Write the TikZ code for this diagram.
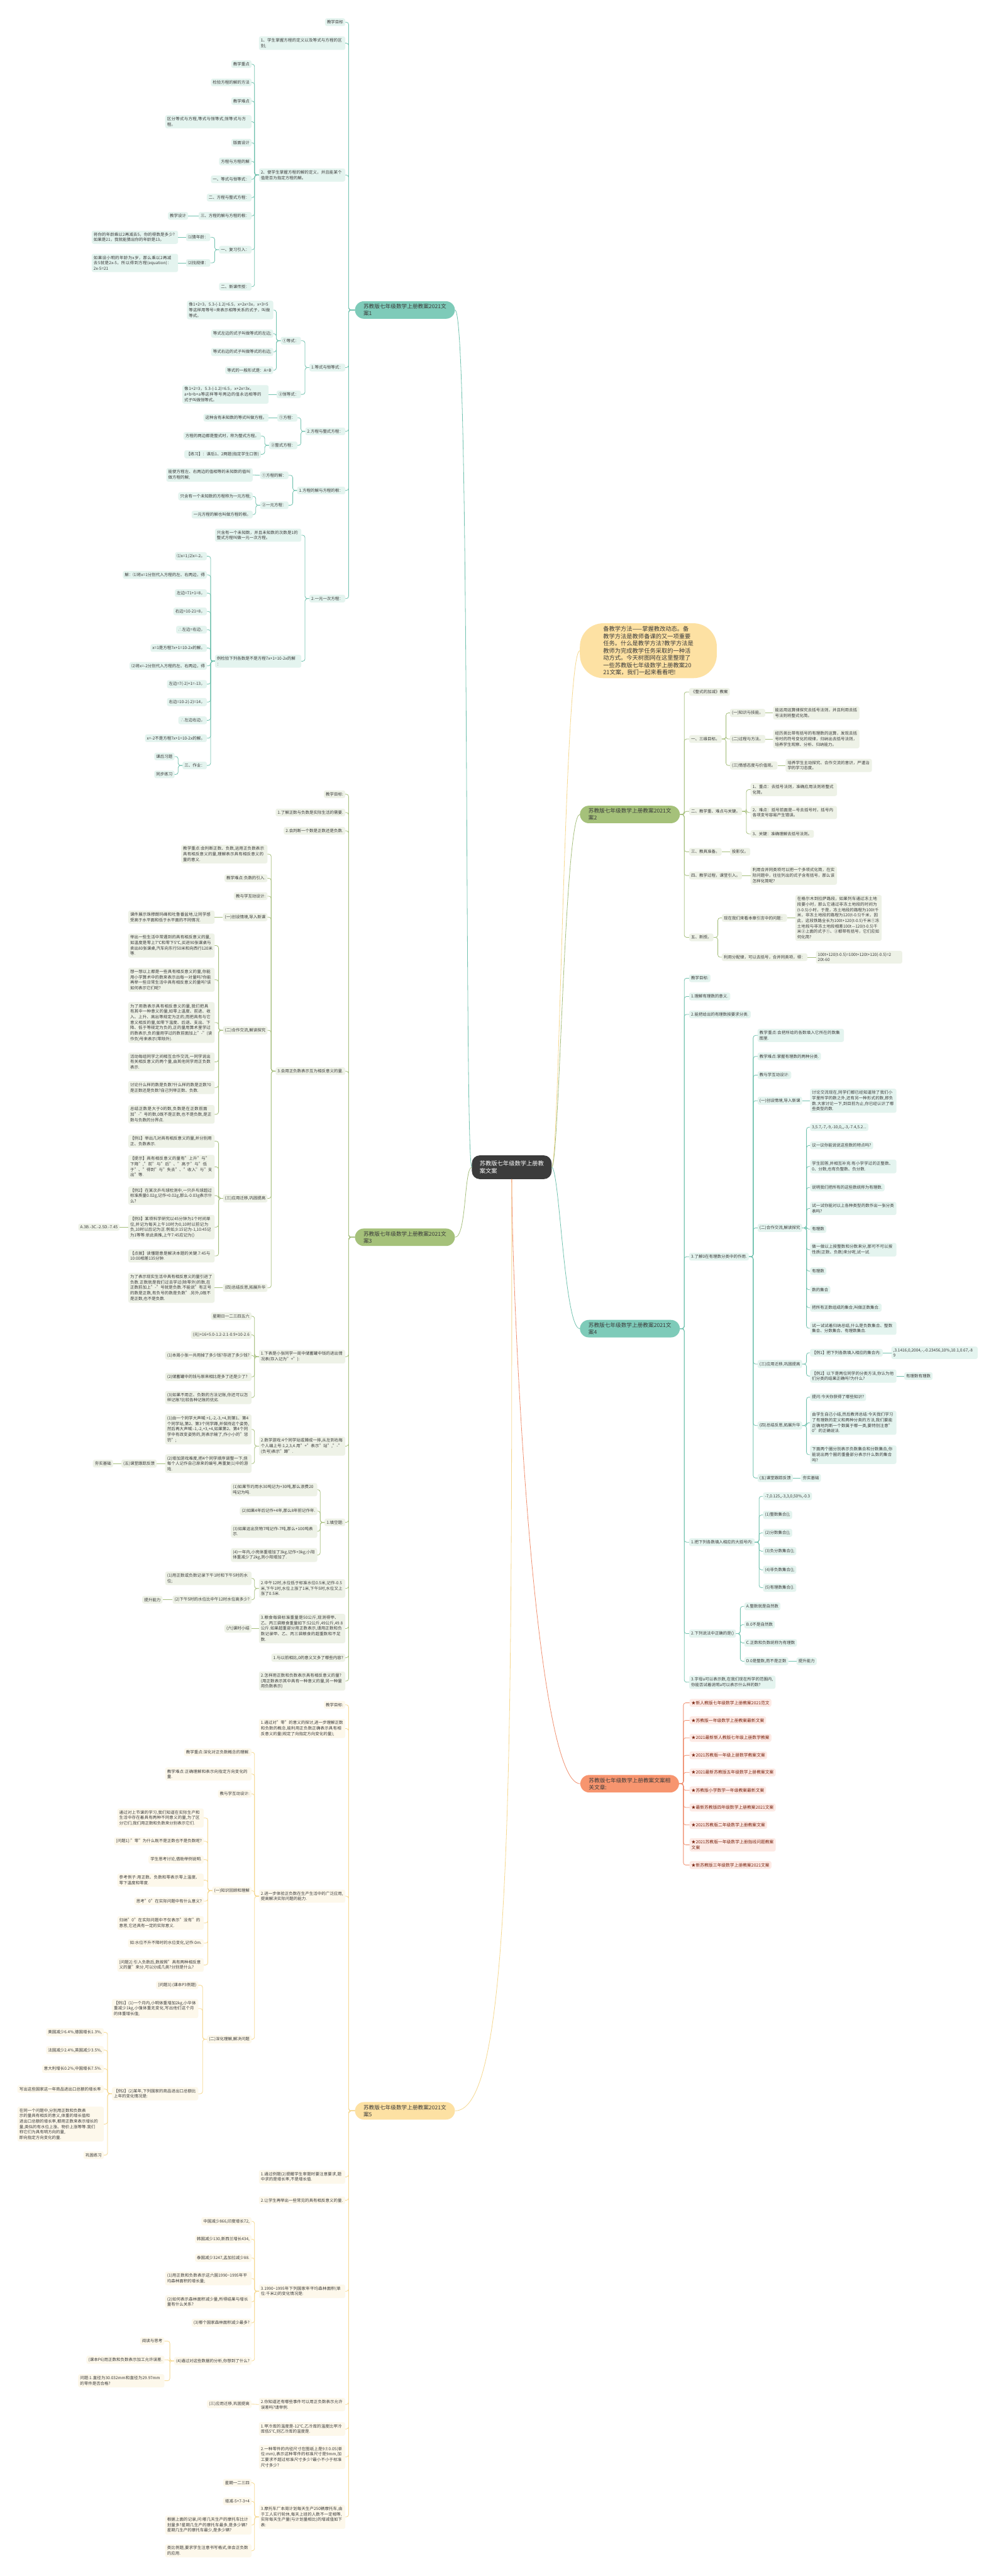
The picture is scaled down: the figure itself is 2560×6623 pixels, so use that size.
\documentclass[tikz,border=0pt]{standalone}
\usepackage{fontspec}
\setmainfont{Noto Sans CJK SC}
\XeTeXlinebreaklocale "zh"
\XeTeXlinebreakskip=0pt plus 1pt
\usetikzlibrary{positioning}

\definecolor{inkc}{HTML}{3A3A3A}
\definecolor{ctrfill}{HTML}{3B3B3B}
\definecolor{tealroot}{HTML}{7ECBB9}
\definecolor{tealline}{HTML}{71C2AF}
\definecolor{tealleaf}{HTML}{E4F4EF}
\definecolor{oliveroot}{HTML}{A5C17A}
\definecolor{oliveline}{HTML}{A6BF7D}
\definecolor{oliveleaf}{HTML}{EEF2E7}
\definecolor{sandroot}{HTML}{FDE1A3}
\definecolor{sandline}{HTML}{F6D88F}
\definecolor{sandleaf}{HTML}{FDF8EB}
\definecolor{roseroot}{HTML}{F7956F}
\definecolor{roseline}{HTML}{F08F6F}
\definecolor{roseleaf}{HTML}{FDEAE5}
\definecolor{rosetext}{HTML}{7A2410}

\tikzset{
  leaf/.style={rounded corners=5pt, inner xsep=5pt, inner ysep=5pt, text=inkc, align=left,
    font=\fontsize{10.5pt}{14pt}\selectfont},
  wide/.style={text width=212pt},
  tealL/.style={leaf, fill=tealleaf, anchor=east},
  tealR/.style={leaf, fill=tealleaf, anchor=west},
  oliveL/.style={leaf, fill=oliveleaf, anchor=east},
  oliveR/.style={leaf, fill=oliveleaf, anchor=west},
  sandL/.style={leaf, fill=sandleaf, anchor=east},
  roseR/.style={leaf, fill=roseleaf, anchor=west, text=rosetext, font=\fontsize{11pt}{14pt}\selectfont},
  root/.style={rounded corners=23pt, inner xsep=22pt, inner ysep=7pt, text=inkc, align=left,
    font=\fontsize{14pt}{18pt}\selectfont},
  tline/.style={draw=tealline, line width=1.3pt, rounded corners=6pt},
  oline/.style={draw=oliveline, line width=1.3pt, rounded corners=6pt},
  sline/.style={draw=sandline, line width=1.3pt, rounded corners=6pt},
  rline/.style={draw=roseline, line width=1.3pt, rounded corners=6pt}
}

\begin{document}
\begin{tikzpicture}[x=1pt, y=-1pt]
\useasboundingbox (0,0) rectangle (2560,6623);
\fill[white] (0,0) rectangle (2560,6623);

% centre
\node[fill=ctrfill, text=white, rounded corners=20pt, inner xsep=20pt, inner ysep=14pt, align=left,
  font=\fontsize{15pt}{19pt}\selectfont] (ctr) at (1316,3001) {苏教版七年级数学上册教\\案文案};

% ---- 文案1 (left, teal)
\node[root, fill=tealroot, anchor=east] (r1) at (1170,797) {苏教版七年级数学上册教案2021文\\案1};
\node[tealL] (a1) at (888,57) {教学目标};
\node[tealL, wide] (a2) at (888,111) {1、学生掌握方程的定义以及等式与方程的区别;};
\node[tealL, wide] (a3) at (888,450) {2、使学生掌握方程的解的定义，并且能某个值是否为指定方程的解。};
\node[tealL] (a4) at (888,945) {1.等式与恒等式：};
\node[tealL] (a5) at (888,1109) {2.方程与整式方程：};
\node[tealL] (a6) at (888,1261) {1.方程的解与方程的根：};
\node[tealL] (a7) at (888,1539) {2.一元一次方程：};

\node[tealL] (a3a) at (647,165) {教学重点};
\node[tealL] (a3b) at (647,212) {检验方程的解的方法};
\node[tealL] (a3c) at (647,260) {教学难点};
\node[tealL, wide] (a3d) at (647,313) {区分等式与方程,等式与恒等式,恒等式与方程。};
\node[tealL] (a3e) at (647,367) {版面设计};
\node[tealL] (a3f) at (647,415) {方程与方程的解};
\node[tealL] (a3g) at (647,461) {一、等式与恒等式：};
\node[tealL] (a3h) at (647,508) {二、方程与整式方程：};
\node[tealL] (a3i) at (647,555) {三、方程的解与方程的根：};
\node[tealL] (a3i1) at (484,555) {教学设计};
\node[tealL] (a3j) at (647,642) {一、复习引入：};
\node[tealL] (cnl) at (541,610) {⑴猜年龄：};
\node[tealL, wide] (cnl1) at (458,610) {将你的年龄乘以2再减去5，你的得数是多少?如果是21，我就能猜出你的年龄是13。};
\node[tealL] (zgl) at (541,676) {⑵找规律：};
\node[tealL, wide] (zgl1) at (458,676) {如果设小明的年龄为x岁，那么乘以2再减去5就是2x-5，所以得到方程(equation)：2x-5=21};
\node[tealL] (a3k) at (647,737) {二、新课传授：};

\node[tealL] (eqa) at (774,876) {①等式：};
\node[tealL, wide] (eq1) at (703,797) {像1+2=3，5.3-(-1.2)=6.5，x+2x=3x，x+3=5等这样用等号=来表示相等关系的式子，叫做等式。};
\node[tealL] (eq2) at (703,858) {等式左边的式子叫做等式的左边;};
\node[tealL] (eq3) at (703,905) {等式右边的式子叫做等式的右边;};
\node[tealL] (eq4) at (703,952) {等式的一般形式是：A=B};
\node[tealL] (hda) at (774,1014) {②恒等式：};
\node[tealL, wide] (hd1) at (691,1014) {像1+2=3，5.3-(-1.2)=6.5，x+2x=3x，a+b=b+a等这样等号两边的值永远相等的式子叫做恒等式。};

\node[tealL] (fc) at (765,1074) {①方程：};
\node[tealL] (fc1) at (691,1074) {这种含有未知数的等式叫做方程。};
\node[tealL] (zsfc) at (765,1145) {②整式方程：};
\node[tealL] (zs1) at (671,1121) {方程的两边都是整式时，称为整式方程。};
\node[tealL] (zs2) at (671,1168) {【练习】：课后1、2两题(指定学生口答)};

\node[tealL] (fcj) at (742,1222) {①方程的解：};
\node[tealL, wide] (fcj1) at (650,1221) {能使方程左、右两边的值相等的未知数的值叫做方程的解;};
\node[tealL] (yyfc) at (742,1299) {②一元方程：};
\node[tealL] (yy1) at (650,1276) {只含有一个未知数的方程称为一元方程;};
\node[tealL] (yy2) at (650,1323) {一元方程的解也叫做方程的根。};

\node[tealL, wide] (yc1) at (775,1376) {只含有一个未知数，并且未知数的次数是1的整式方程叫做一元一次方程。};
\node[tealL, wide] (yc2) at (775,1700) {例检验下列各数是不是方程7x+1=10-2x的解\\：};
\node[tealL] (jy1) at (532,1430) {⑴x=1;⑵x=-2。};
\node[tealL] (jy2) at (532,1478) {解：⑴将x=1分别代入方程的左、右两边，得};
\node[tealL] (jy3) at (532,1525) {左边=71+1=8，};
\node[tealL] (jy4) at (532,1572) {右边=10-21=8，};
\node[tealL] (jy5) at (532,1619) {∴左边=右边，};
\node[tealL] (jy6) at (532,1666) {x=1是方程7x+1=10-2x的解。};
\node[tealL] (jy7) at (532,1712) {⑵将x=-2分别代入方程的左、右两边，得};
\node[tealL] (jy8) at (532,1759) {左边=7(-2)+1=-13，};
\node[tealL] (jy9) at (532,1805) {右边=10-2(-2)=14，};
\node[tealL] (jy10) at (532,1852) {∴左边右边，};
\node[tealL] (jy11) at (532,1898) {x=-2不是方程7x+1=10-2x的解。};
\node[tealL] (zy) at (532,1968) {三、作业：};
\node[tealL] (zy1) at (449,1945) {课后习题};
\node[tealL] (zy2) at (449,1991) {同步练习};

\foreach \c in {a1,a2,a3,a4,a5,a6,a7} \draw[tline] (r1.west) -- ++(-16,0) |- (\c.east);
\foreach \c in {a3a,a3b,a3c,a3d,a3e,a3f,a3g,a3h,a3i,a3j,a3k} \draw[tline] (a3.west) -- ++(-11,0) |- (\c.east);
\draw[tline] (a3i.west) -- (a3i1.east);
\foreach \c in {cnl,zgl} \draw[tline] (a3j.west) -- ++(-11,0) |- (\c.east);
\draw[tline] (cnl.west) -- (cnl1.east);
\draw[tline] (zgl.west) -- (zgl1.east);
\foreach \c in {eqa,hda} \draw[tline] (a4.west) -- ++(-11,0) |- (\c.east);
\foreach \c in {eq1,eq2,eq3,eq4} \draw[tline] (eqa.west) -- ++(-11,0) |- (\c.east);
\draw[tline] (hda.west) -- (hd1.east);
\foreach \c in {fc,zsfc} \draw[tline] (a5.west) -- ++(-11,0) |- (\c.east);
\draw[tline] (fc.west) -- (fc1.east);
\foreach \c in {zs1,zs2} \draw[tline] (zsfc.west) -- ++(-11,0) |- (\c.east);
\foreach \c in {fcj,yyfc} \draw[tline] (a6.west) -- ++(-11,0) |- (\c.east);
\draw[tline] (fcj.west) -- (fcj1.east);
\foreach \c in {yy1,yy2} \draw[tline] (yyfc.west) -- ++(-11,0) |- (\c.east);
\foreach \c in {yc1,yc2} \draw[tline] (a7.west) -- ++(-11,0) |- (\c.east);
\foreach \c in {jy1,jy2,jy3,jy4,jy5,jy6,jy7,jy8,jy9,jy10,jy11,zy} \draw[tline] (yc2.west) -- ++(-11,0) |- (\c.east);
\foreach \c in {zy1,zy2} \draw[tline] (zy.west) -- ++(-11,0) |- (\c.east);

% ---- note
\node[fill=sandroot, rounded corners=60pt, anchor=west, minimum width=352pt, minimum height=141pt,
  inner xsep=20pt, align=left, text=inkc, font=\fontsize{15pt}{18.5pt}\selectfont] (note) at (1491,1673)
  {备教学方法——掌握教改动态。备\\教学方法是教师备课的又一项重要\\任务。什么是教学方法?教学方法是\\教师为完成教学任务采取的一种活\\动方式。今天树图网在这里整理了\\一些苏教版七年级数学上册教案20\\21文案，我们一起来看看吧!};

% ---- 文案2 (right, olive)
\node[root, fill=oliveroot, anchor=west] (r2) at (1491,2094) {苏教版七年级数学上册教案2021文\\案2};
\node[oliveR] (b1) at (1772,1779) {《整式的加减》教案};
\node[oliveR] (b2) at (1772,1900) {一、三维目标。};
\node[oliveR] (b3) at (1772,2086) {二、教学重、难点与关键。};
\node[oliveR] (b4) at (1772,2190) {三、教具准备。};
\node[oliveR] (b5) at (1772,2251) {四、教学过程，课堂引入。};
\node[oliveR] (b6) at (1772,2410) {五、新授。};
\node[oliveR] (b2a) at (1877,1833) {(一)知识与技能。};
\node[oliveR, wide] (b2a1) at (1988,1833) {能运用运算律探究去括号法则，并且利用去括号法则将整式化简。};
\node[oliveR] (b2b) at (1877,1900) {(二)过程与方法。};
\node[oliveR, wide] (b2b1) at (1988,1900) {经历类比带有括号的有理数的运算，发现去括号时的符号变化的规律，归纳出去括号法则，培养学生观察、分析、归纳能力。};
\node[oliveR] (b2c) at (1877,1968) {(三)情感态度与价值观。};
\node[oliveR, wide] (b2c1) at (2020,1968) {培养学生主动探究、合作交流的意识，严谨治学的学习态度。};
\node[oliveR, wide] (b3a) at (1930,2030) {1、重点：去括号法则，准确应用法则将整式化简。};
\node[oliveR, wide] (b3b) at (1930,2089) {2、难点：括号前面是—号去括号时，括号内各项变号容易产生错误。};
\node[oliveR] (b3c) at (1930,2144) {3、关键：准确理解去括号法则。};
\node[oliveR] (b4a) at (1877,2190) {投影仪。};
\node[oliveR, wide] (b5a) at (1930,2251) {利用合并同类项可以把一个多项式化简，在实际问题中，往往列出的式子含有括号，那么该怎样化简呢?};
\node[oliveR] (b6a) at (1856,2360) {现在我们来看本章引言中的问题：};
\node[oliveR, wide] (b6a1) at (2045,2360) {在格尔木到拉萨路段，如果列车通过冻土地段要小时，那么它通过非冻土地段的时间为(t-0.5)小时，于是，冻土地段的路程为100t千米，非冻土地段的路程为120(t-0.5)千米，因此，这段铁路全长为100t+120(t-0.5)千米①冻土地段与非冻土地段相差100t—120(t-0.5)千米②上面的式子①、②都带有括号，它们应如何化简?};
\node[oliveR] (b6b) at (1856,2461) {利用分配律，可以去括号，合并同类项，得：};
\node[oliveR, wide] (b6b1) at (2098,2461) {100t+120(t-0.5)=100t+120t+120(-0.5)=2\\20t-60};

\foreach \c in {b1,b2,b3,b4,b5,b6} \draw[oline] (r2.east) -- ++(11,0) |- (\c.west);
\foreach \c in {b2a,b2b,b2c} \draw[oline] (b2.east) -- ++(11,0) |- (\c.west);
\draw[oline] (b2a.east) -- (b2a1.west);
\draw[oline] (b2b.east) -- (b2b1.west);
\draw[oline] (b2c.east) -- (b2c1.west);
\foreach \c in {b3a,b3b,b3c} \draw[oline] (b3.east) -- ++(11,0) |- (\c.west);
\draw[oline] (b4.east) -- (b4a.west);
\draw[oline] (b5.east) -- (b5a.west);
\foreach \c in {b6a,b6b} \draw[oline] (b6.east) -- ++(11,0) |- (\c.west);
\draw[oline] (b6a.east) -- (b6a1.west);
\draw[oline] (b6b.east) -- (b6b1.west);

% ---- 文案3 (left, olive)
\node[root, fill=oliveroot, anchor=east] (r3) at (1170,3181) {苏教版七年级数学上册教案2021文\\案3};
\node[oliveL] (c1) at (888,2042) {教学目标:};
\node[oliveL] (c2) at (888,2089) {1.了解正数与负数是实际生活的需要.};
\node[oliveL] (c3) at (888,2136) {2.会判断一个数是正数还是负数.};
\node[oliveL] (c4) at (888,2754) {3.会用正负数表示互为相反意义的量.};
\node[oliveL, wide] (c5) at (888,3488) {1.下表是小张同学一周中储蓄罐中钱的进出情况表(存入记为"+"):};
\node[oliveL, wide] (c6) at (888,3718) {2.数学游戏:4个同学站或蹲成一排,从左到右每个人编上号:1,2,3,4.用"+"表示"站","-"(负号)表示"蹲".};
\node[oliveL] (c7) at (888,3914) {1.填空题:};
\node[oliveL, wide] (c8) at (888,4084) {2.中午12时,水位低于标准水位0.5米,记作-0.5米,下午1时,水位上涨了1米,下午5时,水位又上涨了0.5米.};
\node[oliveL, wide] (c9) at (888,4187) {3.粮食每袋标准重量是50公斤,现测得甲、乙、丙三袋粮食重量如下:52公斤,49公斤,49.8公斤.如果超重部分用正数表示,请用正数和负数记录甲、乙、丙三袋粮食的超重数和不足数.};
\node[oliveL] (c10) at (888,4262) {1.与以前相比,0的意义又多了哪些内容?};
\node[oliveL, wide] (c11) at (888,4322) {2.怎样用正数和负数表示具有相反意义的量?(用正数表示其中具有一种意义的量,另一种量用负数表示)};

\node[oliveL, wide] (c4a) at (688,2196) {教学重点:会判断正数、负数,运用正负数表示具有相反意义的量,理解表示具有相反意义的量的意义.};
\node[oliveL] (c4b) at (688,2258) {教学难点:负数的引入.};
\node[oliveL] (c4c) at (688,2304) {教与学互动设计:};
\node[oliveL] (c4d) at (688,2358) {(一)创设情境,导入新课};
\node[oliveL, wide] (c4d1) at (552,2358) {课件展示珠穆朗玛峰和吐鲁番盆地,让同学感受高于水平面和低于水平面的不同情况.};
\node[oliveL] (c4e) at (688,2649) {(二)合作交流,解读探究};
\node[oliveL, wide] (c4e1) at (552,2431) {举出一些生活中常遇到的具有相反意义的量,如温度是零上7℃和零下5℃,买进90张课桌与卖出80张课桌,汽车向东行50米和向西行120米等.};
\node[oliveL, wide] (c4e2) at (552,2519) {想一想以上都是一些具有相反意义的量,你能用小学算术中的数来表示出每一对量吗?你能再举一些日常生活中具有相反意义的量吗?该如何表示它们呢?};
\node[oliveL, wide] (c4e3) at (552,2629) {为了用数表示具有相反意义的量,我们把具有其中一种意义的量,如零上温度、前进、收入、上升、高出等规定为正的,而把具有与它意义相反的量,如零下温度、后退、支出、下降、低于等规定为负的,正的量用算术里学过的数表示,负的量用学过的数前面加上"-"(读作负)号来表示(零除外).};
\node[oliveL, wide] (c4e4) at (552,2730) {活动每组同学之间相互合作交流,一同学说出有关相反意义的两个量,由其他同学用正负数表示.};
\node[oliveL, wide] (c4e5) at (552,2796) {讨论什么样的数是负数?什么样的数是正数?0是正数还是负数?自己列举正数、负数.};
\node[oliveL, wide] (c4e6) at (552,2865) {总结正数是大于0的数,负数是在正数前面加"-"号的数,0既不是正数,也不是负数,是正数与负数的分界点.};
\node[oliveL] (c4f) at (688,3081) {(三)应用迁移,巩固提高};
\node[oliveL, wide] (c4f1) at (552,2934) {【例1】举出几对具有相反意义的量,并分别用正、负数表示.};
\node[oliveL, wide] (c4f2) at (552,3000) {【提示】具有相反意义的量有"上升"与"下降","前"与"后"、"高于"与"低于"、"得到"与"失去"、"收入"与"支出"等.};
\node[oliveL, wide] (c4f3) at (552,3074) {【例2】在某次乒乓球检测中,一只乒乓球超过标准质量0.02g,记作+0.02g,那么-0.03g表示什么?};
\node[oliveL, wide] (c4f4) at (552,3155) {【例3】某项科学研究以45分钟为1个时间单位,并记为每天上午10时为0,10时以前记为负,10时以后记为正.例如,9:15记为-1,10:45记为1等等.依此类推,上午7:45应记为()};
\node[oliveL] (c4f4a) at (308,3155) {A.3B.-3C.-2.5D.-7.45};
\node[oliveL, wide] (c4f5) at (552,3229) {【点拨】读懂题意是解决本题的关键.7:45与10:00相差135分钟.};
\node[oliveL] (c4g) at (688,3311) {(四)总结反思,拓展升华};
\node[oliveL, wide] (c4g1) at (552,3311) {为了表示现实生活中具有相反意义的量引进了负数.正数就是我们过去学过(除零外)的数,在正数前加上"-"号就是负数.不能说"有正号的数是正数,有负号的数是负数".另外,0既不是正数,也不是负数.};

\node[oliveL] (c5a) at (647,3384) {星期日一二三四五六};
\node[oliveL] (c5b) at (647,3432) {(元)+16+5.0-1.2-2.1-0.9+10-2.6};
\node[oliveL, wide] (c5c) at (647,3485) {(1)本周小张一共用掉了多少钱?存进了多少钱?};
\node[oliveL, wide] (c5d) at (647,3540) {(2)储蓄罐中的钱与原来相比是多了还是少了?};
\node[oliveL, wide] (c5e) at (647,3593) {(3)如果不用正、负数的方法记账,你还可以怎样记账?比较各种记账的优劣.};
\node[oliveL, wide] (c6a) at (647,3675) {(1)由一个同学大声喊:+1,-2,-3,+4,则第1、第4个同学站,第2、第3个同学蹲,并保持这个姿势,然后再大声喊:-1,-2,+3,+4,如果第2、第4个同学中有改变姿势的,则表示输了,作小小的"惩罚";};
\node[oliveL, wide] (c6b) at (647,3763) {(2)增加游戏难度,把4个同学顺序调整一下,但每个人记作自己原来的编号,再重复(1)中的游戏.};
\node[oliveL] (c6b1) at (403,3763) {(五)课堂跟踪反馈};
\node[oliveL] (c6b2) at (291,3763) {夯实基础};
\node[oliveL, wide] (c7a) at (816,3830) {(1)如果节约用水30吨记为+30吨,那么浪费20吨记为吨.};
\node[oliveL] (c7b) at (816,3885) {(2)如果4年后记作+4年,那么8年前记作年.};
\node[oliveL, wide] (c7c) at (816,3937) {(3)如果运出货物7吨记作-7吨,那么+100吨表示.};
\node[oliveL, wide] (c7d) at (816,3998) {(4)一年内,小亮体重增加了3kg,记作+3kg;小阳体重减少了2kg,则小阳增加了.};
\node[oliveL, wide] (c8a) at (647,4058) {(1)用正数或负数记录下午1时和下午5时的水位;};
\node[oliveL] (c8b) at (647,4113) {(2)下午5时的水位比中午12时水位高多少?};
\node[oliveL] (c8b1) at (418,4113) {提升能力};
\node[oliveL] (c9a) at (647,4187) {(六)课时小结};

\foreach \c in {c1,c2,c3,c4,c5,c6,c7,c8,c9,c10,c11} \draw[oline] (r3.west) -- ++(-16,0) |- (\c.east);
\foreach \c in {c4a,c4b,c4c,c4d,c4e,c4f,c4g} \draw[oline] (c4.west) -- ++(-11,0) |- (\c.east);
\draw[oline] (c4d.west) -- (c4d1.east);
\foreach \c in {c4e1,c4e2,c4e3,c4e4,c4e5,c4e6} \draw[oline] (c4e.west) -- ++(-11,0) |- (\c.east);
\foreach \c in {c4f1,c4f2,c4f3,c4f4,c4f5} \draw[oline] (c4f.west) -- ++(-11,0) |- (\c.east);
\draw[oline] (c4f4.west) -- (c4f4a.east);
\draw[oline] (c4g.west) -- (c4g1.east);
\foreach \c in {c5a,c5b,c5c,c5d,c5e} \draw[oline] (c5.west) -- ++(-11,0) |- (\c.east);
\foreach \c in {c6a,c6b} \draw[oline] (c6.west) -- ++(-11,0) |- (\c.east);
\draw[oline] (c6b.west) -- (c6b1.east);
\draw[oline] (c6b1.west) -- (c6b2.east);
\foreach \c in {c7a,c7b,c7c,c7d} \draw[oline] (c7.west) -- ++(-11,0) |- (\c.east);
\foreach \c in {c8a,c8b} \draw[oline] (c8.west) -- ++(-11,0) |- (\c.east);
\draw[oline] (c8b.west) -- (c8b1.east);
\draw[oline] (c9.west) -- (c9a.east);

% ---- 文案4 (right, teal)
\node[root, fill=tealroot, anchor=west] (r4) at (1491,3416) {苏教版七年级数学上册教案2021文\\案4};
\node[tealR] (d1) at (1772,2515) {教学目标:};
\node[tealR] (d2) at (1772,2562) {1.理解有理数的意义.};
\node[tealR] (d3) at (1772,2608) {2.能把给出的有理数按要求分类.};
\node[tealR] (d4) at (1772,3231) {3.了解0在有理数分类中的作用.};
\node[tealR] (d5) at (1772,3965) {1.把下列各数填入相应的大括号内:};
\node[tealR] (d6) at (1772,4200) {2.下列说法中正确的是()};
\node[tealR, wide] (d7) at (1772,4325) {3.字母a可以表示数,在我们现在所学的范围内,你能否试着说明a可以表示什么样的数?};

\node[tealR, wide] (d4a) at (1948,2662) {教学重点:会把所给的各数填入它所在的数集图里.};
\node[tealR] (d4b) at (1948,2716) {教学难点:掌握有理数的两种分类.};
\node[tealR] (d4c) at (1948,2764) {教与学互动设计:};
\node[tealR] (d4d) at (1948,2830) {(一)创设情境,导入新课};
\node[tealR, wide] (d4d1) at (2083,2830) {讨论交流现在,同学们都已经知道除了我们小学里所学的数之外,还有另一种形式的数,即负数.大家讨论一下,到目前为止,你已经认识了哪些类型的数.};
\node[tealR] (d4e) at (1948,3157) {(二)合作交流,解读探究};
\node[tealR] (d4e1) at (2083,2898) {3,5.7,-7,-9,-10,0,,,-3,-7.4,5.2...};
\node[tealR] (d4e2) at (2083,2945) {议一议你能说说这些数的特点吗?};
\node[tealR, wide] (d4e3) at (2083,2999) {学生回答,并相互补充:有小学学过的正整数、0、分数,也有负整数、负分数.};
\node[tealR] (d4e4) at (2083,3053) {说明我们把所有的这些数统称为有理数.};
\node[tealR, wide] (d4e5) at (2083,3107) {试一试你能对以上各种类型的数作出一张分类表吗?};
\node[tealR] (d4e6) at (2083,3160) {有理数};
\node[tealR, wide] (d4e7) at (2083,3213) {做一做以上按整数和分数来分,那可不可以按性质(正数、负数)来分呢,试一试.};
\node[tealR] (d4e8) at (2083,3268) {有理数};
\node[tealR] (d4e9) at (2083,3316) {数的集合};
\node[tealR] (d4e10) at (2083,3362) {把所有正数组成的集合,叫做正数集合.};
\node[tealR, wide] (d4e11) at (2083,3415) {试一试试着归纳总结,什么是负数集合、整数集合、分数集合、有理数集合.};
\node[tealR] (d4f) at (1948,3507) {(三)应用迁移,巩固提高};
\node[tealR] (d4f1) at (2083,3478) {【例1】把下列各数填入相应的集合内:};
\node[tealR, wide] (d4f1a) at (2292,3478) {,3.1416,0,2004,-,-0.23456,10\%,10.1,0.67,-8\\9};
\node[tealR, wide] (d4f2) at (2083,3538) {【例2】以下是两位同学的分类方法,你认为他们分类的结果正确吗?为什么?};
\node[tealR] (d4f2a) at (2325,3538) {有理数有理数};
\node[tealR] (d4g) at (1948,3665) {(四)总结反思,拓展升华};
\node[tealR] (d4g1) at (2083,3592) {提问:今天你获得了哪些知识?};
\node[tealR, wide] (d4g2) at (2083,3658) {由学生自己小结,然后教师总结:今天我们学习了有理数的定义和两种分类的方法,我们要能正确地判断一个数属于哪一类,要特别注意"0"的正确说法.};
\node[tealR, wide] (d4g3) at (2083,3740) {下面两个圈分别表示负数集合和分数集合,你能说出两个圈的重叠部分表示什么数的集合吗?};
\node[tealR] (d4h) at (1948,3800) {(五)课堂跟踪反馈};
\node[tealR] (d4h1) at (2059,3800) {夯实基础};
\node[tealR] (d5a) at (1962,3847) {-7,0.125,,-3,3,0,50\%,-0.3};
\node[tealR] (d5b) at (1962,3895) {(1)整数集合\{\};};
\node[tealR] (d5c) at (1962,3941) {(2)分数集合\{\};};
\node[tealR] (d5d) at (1962,3988) {(3)负分数集合\{\};};
\node[tealR] (d5e) at (1962,4036) {(4)非负数集合\{\};};
\node[tealR] (d5f) at (1962,4082) {(5)有理数集合\{\}.};
\node[tealR] (d6a) at (1914,4130) {A.整数就是自然数};
\node[tealR] (d6b) at (1914,4177) {B.0不是自然数};
\node[tealR] (d6c) at (1914,4224) {C.正数和负数统称为有理数};
\node[tealR] (d6d) at (1914,4271) {D.0是整数,而不是正数};
\node[tealR] (d6d1) at (2048,4271) {提升能力};

\foreach \c in {d1,d2,d3,d4,d5,d6,d7} \draw[tline] (r4.east) -- ++(11,0) |- (\c.west);
\foreach \c in {d4a,d4b,d4c,d4d,d4e,d4f,d4g,d4h} \draw[tline] (d4.east) -- ++(11,0) |- (\c.west);
\draw[tline] (d4d.east) -- (d4d1.west);
\foreach \c in {d4e1,d4e2,d4e3,d4e4,d4e5,d4e6,d4e7,d4e8,d4e9,d4e10,d4e11} \draw[tline] (d4e.east) -- ++(11,0) |- (\c.west);
\foreach \c in {d4f1,d4f2} \draw[tline] (d4f.east) -- ++(11,0) |- (\c.west);
\draw[tline] (d4f1.east) -- (d4f1a.west);
\draw[tline] (d4f2.east) -- (d4f2a.west);
\foreach \c in {d4g1,d4g2,d4g3} \draw[tline] (d4g.east) -- ++(11,0) |- (\c.west);
\draw[tline] (d4h.east) -- (d4h1.west);
\foreach \c in {d5a,d5b,d5c,d5d,d5e,d5f} \draw[tline] (d5.east) -- ++(11,0) |- (\c.west);
\foreach \c in {d6a,d6b,d6c,d6d} \draw[tline] (d6.east) -- ++(11,0) |- (\c.west);
\draw[tline] (d6d.east) -- (d6d1.west);

% ---- related articles (right, rose)
\node[root, fill=roseroot, anchor=west] (rr) at (1492,4586) {苏教版七年级数学上册教案文案相\\关文章:};
\node[roseR] (f1) at (1773,4378) {★新人教版七年级数学上册教案2021范文};
\node[roseR] (f2) at (1773,4423) {★苏教版一年级数学上册教案最新文案};
\node[roseR] (f3) at (1773,4468) {★2021最新新人教版七年级上册数学教案};
\node[roseR] (f4) at (1773,4513) {★2021苏教版一年级上册数学教案文案};
\node[roseR] (f5) at (1773,4557) {★2021最新苏教版五年级数学上册教案文案};
\node[roseR] (f6) at (1773,4603) {★苏教版小学数学一年级教案最新文案};
\node[roseR] (f7) at (1773,4647) {★最新苏教版四年级数学上册教案2021文案};
\node[roseR] (f8) at (1773,4692) {★2021苏教版二年级数学上册教案文案};
\node[roseR] (f9) at (1773,4743) {★2021苏教版一年级数学上册指线问题教案\\文案};
\node[roseR] (f10) at (1773,4795) {★新苏教版三年级数学上册教案2021文案};
\foreach \c in {f1,f2,f3,f4,f5,f6,f7,f8,f9,f10} \draw[rline] (rr.east) -- ++(11,0) |- (\c.west);

% ---- 文案5 (left, sand)
\node[root, fill=sandroot, anchor=east] (r5) at (1170,5427) {苏教版七年级数学上册教案2021文\\案5};
\node[sandL] (e1) at (888,4383) {教学目标:};
\node[sandL, wide] (e2) at (888,4444) {1.通过对"零"的意义的探讨,进一步理解正数和负数的概念,能利用正负数正确表示具有相反意义的量(规定了向指定方向变化的量);};
\node[sandL, wide] (e3) at (888,4875) {2.进一步体验正负数在生产生活中的广泛应用,提高解决实际问题的能力.};
\node[sandL, wide] (e4) at (888,5597) {1.通过例题(2)提醒学生审题时要注意要求,题中求的是增长率,不是增长值.};
\node[sandL, wide] (e5) at (888,5657) {2.让学生再举出一些常见的具有相反意义的量.};
\node[sandL, wide] (e6) at (888,5891) {3.1990\textasciitilde1995年下列国家年平均森林面积(单位:千米2)的变化情况是:};
\node[sandL, wide] (e7) at (888,6182) {2.你知道还有哪些事件可以用正负数表示允许误差吗?请举例.};
\node[sandL, wide] (e8) at (888,6245) {1.甲冷库的温度是-12℃,乙冷库的温度比甲冷库低5℃,则乙冷库的温度是.};
\node[sandL, wide] (e9) at (888,6317) {2.一种零件的内径尺寸在图纸上是9±0.05(单位:mm),表示这种零件的标准尺寸是9mm,加工要求不超过标准尺寸多少?最小不小于标准尺寸多少?};
\node[sandL, wide] (e10) at (888,6471) {3.摩托车厂本周计划每天生产250辆摩托车,由于工人实行轮休,每天上班的人数不一定相等,实际每天生产量(与计划量相比)的增减值如下表:};

\node[sandL] (e3a) at (647,4505) {教学重点:深化对正负数概念的理解.};
\node[sandL, wide] (e3b) at (647,4561) {教学难点:正确理解和表示向指定方向变化的量.};
\node[sandL] (e3c) at (647,4612) {教与学互动设计:};
\node[sandL] (e3d) at (647,4861) {(一)知识回顾和理解};
\node[sandL, wide] (e3d1) at (524,4674) {通过对上节课的学习,我们知道在实际生产和生活中存在着具有两种不同意义的量,为了区分它们,我们用正数和负数来分别表示它们.};
\node[sandL] (e3d2) at (524,4734) {[问题1]:"零"为什么既不是正数也不是负数呢?};
\node[sandL] (e3d3) at (524,4781) {学生思考讨论,借助举例说明.};
\node[sandL, wide] (e3d4) at (524,4834) {参考例子:用正数、负数和零表示零上温度、零下温度和零度.};
\node[sandL] (e3d5) at (524,4888) {思考"0"在实际问题中有什么意义?};
\node[sandL, wide] (e3d6) at (524,4944) {归纳"0"在实际问题中不仅表示"没有"的意思,它还具有一定的实际意义.};
\node[sandL] (e3d7) at (524,4996) {如:水位不升不降时的水位变化,记作:0m.};
\node[sandL, wide] (e3d8) at (524,5052) {[问题2]:引入负数后,数按照"具有两种相反意义的量"来分,可以分成几类?分别是什么?};
\node[sandL] (e3e) at (647,5243) {(二)深化理解,解决问题};
\node[sandL] (e3e1) at (510,5104) {[问题3]:(课本P3例题)};
\node[sandL, wide] (e3e2) at (510,5164) {【例1】(1)一个月内,小明体重增加2kg,小华体重减少1kg,小强体重无变化,写出他们这个月的体重增长值;};
\node[sandL, wide] (e3e3) at (510,5383) {【例2】(2)某年,下列国家的商品进出口总额比上年的变化情况是:};
\node[sandL] (g1) at (267,5225) {美国减少6.4\%,德国增长1.3\%,};
\node[sandL] (g2) at (267,5271) {法国减少2.4\%,英国减少3.5\%,};
\node[sandL] (g3) at (267,5319) {意大利增长0.2\%,中国增长7.5\%.};
\node[sandL, wide] (g4) at (267,5371) {写出这些国家这一年商品进出口总额的增长率};
\node[sandL, wide] (g5) at (267,5461) {在同一个问题中,分别用正数和负数表\\示的量具有相反的意义,体重的增长值和\\进出口总额的增长率,都用正数来表示增长的\\量,类似的有水位上涨、物价上涨等等.我们\\称它们为具有明方向的量,\\即向指定方向变化的量.};
\node[sandL] (g6) at (267,5541) {巩固练习};

\node[sandL] (e6a) at (647,5711) {中国减少866,印度增长72,};
\node[sandL] (e6b) at (647,5757) {韩国减少130,新西兰增长434,};
\node[sandL] (e6c) at (647,5805) {泰国减少3247,孟加拉减少88.};
\node[sandL, wide] (e6d) at (647,5858) {(1)用正数和负数表示这六国1990\textasciitilde1995年平均森林面积的增长量;};
\node[sandL, wide] (e6e) at (647,5918) {(2)如何表示森林面积减少量,所得结果与增长量有什么关系?};
\node[sandL] (e6f) at (647,5972) {(3)哪个国家森林面积减少最多?};
\node[sandL] (e6g) at (647,6070) {(4)通过对这些数据的分析,你想到了什么?};
\node[sandL] (e6g1) at (423,6019) {阅读与思考};
\node[sandL] (e6g2) at (423,6067) {(课本P6)用正数和负数表示加工允许误差.};
\node[sandL, wide] (e6g3) at (423,6121) {问题:1.直径为30.032mm和直径为29.97mm的零件是否合格?};
\node[sandL] (e7a) at (647,6181) {(三)应用迁移,巩固提高};
\node[sandL] (e10a) at (647,6383) {星期一二三四};
\node[sandL] (e10b) at (647,6431) {增减-5+7-3+4};
\node[sandL, wide] (e10c) at (647,6492) {根据上面的记录,问:哪几天生产的摩托车比计划量多?星期几生产的摩托车最多,是多少辆?星期几生产的摩托车最少,是多少辆?};
\node[sandL, wide] (e10d) at (647,6558) {类比例题,要求学生注意书写格式,体会正负数的应用.};

\foreach \c in {e1,e2,e3,e4,e5,e6,e7,e8,e9,e10} \draw[sline] (r5.west) -- ++(-16,0) |- (\c.east);
\foreach \c in {e3a,e3b,e3c,e3d,e3e} \draw[sline] (e3.west) -- ++(-11,0) |- (\c.east);
\foreach \c in {e3d1,e3d2,e3d3,e3d4,e3d5,e3d6,e3d7,e3d8} \draw[sline] (e3d.west) -- ++(-11,0) |- (\c.east);
\foreach \c in {e3e1,e3e2,e3e3} \draw[sline] (e3e.west) -- ++(-11,0) |- (\c.east);
\foreach \c in {g1,g2,g3,g4,g5,g6} \draw[sline] (e3e3.west) -- ++(-11,0) |- (\c.east);
\foreach \c in {e6a,e6b,e6c,e6d,e6e,e6f,e6g} \draw[sline] (e6.west) -- ++(-11,0) |- (\c.east);
\foreach \c in {e6g1,e6g2,e6g3} \draw[sline] (e6g.west) -- ++(-11,0) |- (\c.east);
\draw[sline] (e7.west) -- (e7a.east);
\foreach \c in {e10a,e10b,e10c,e10d} \draw[sline] (e10.west) -- ++(-11,0) |- (\c.east);

% centre to the main topics
\draw[tline] (ctr.west) .. controls +(-20,0) and +(40,0) .. (r1.east);
\draw[oline] (ctr.west) .. controls +(-20,0) and +(30,0) .. (r3.east);
\draw[sline] (ctr.south) .. controls +(0,1500) and +(150,0) .. (r5.east);
\draw[sline] (ctr.east) .. controls +(20,0) and +(-40,0) .. (note.west);
\draw[oline] (ctr.east) .. controls +(20,0) and +(-40,0) .. (r2.west);
\draw[tline] (ctr.east) .. controls +(20,0) and +(-40,0) .. (r4.west);
\draw[rline] (ctr.south) .. controls +(0,300) and +(-120,0) .. (rr.west);
\end{tikzpicture}
\end{document}
